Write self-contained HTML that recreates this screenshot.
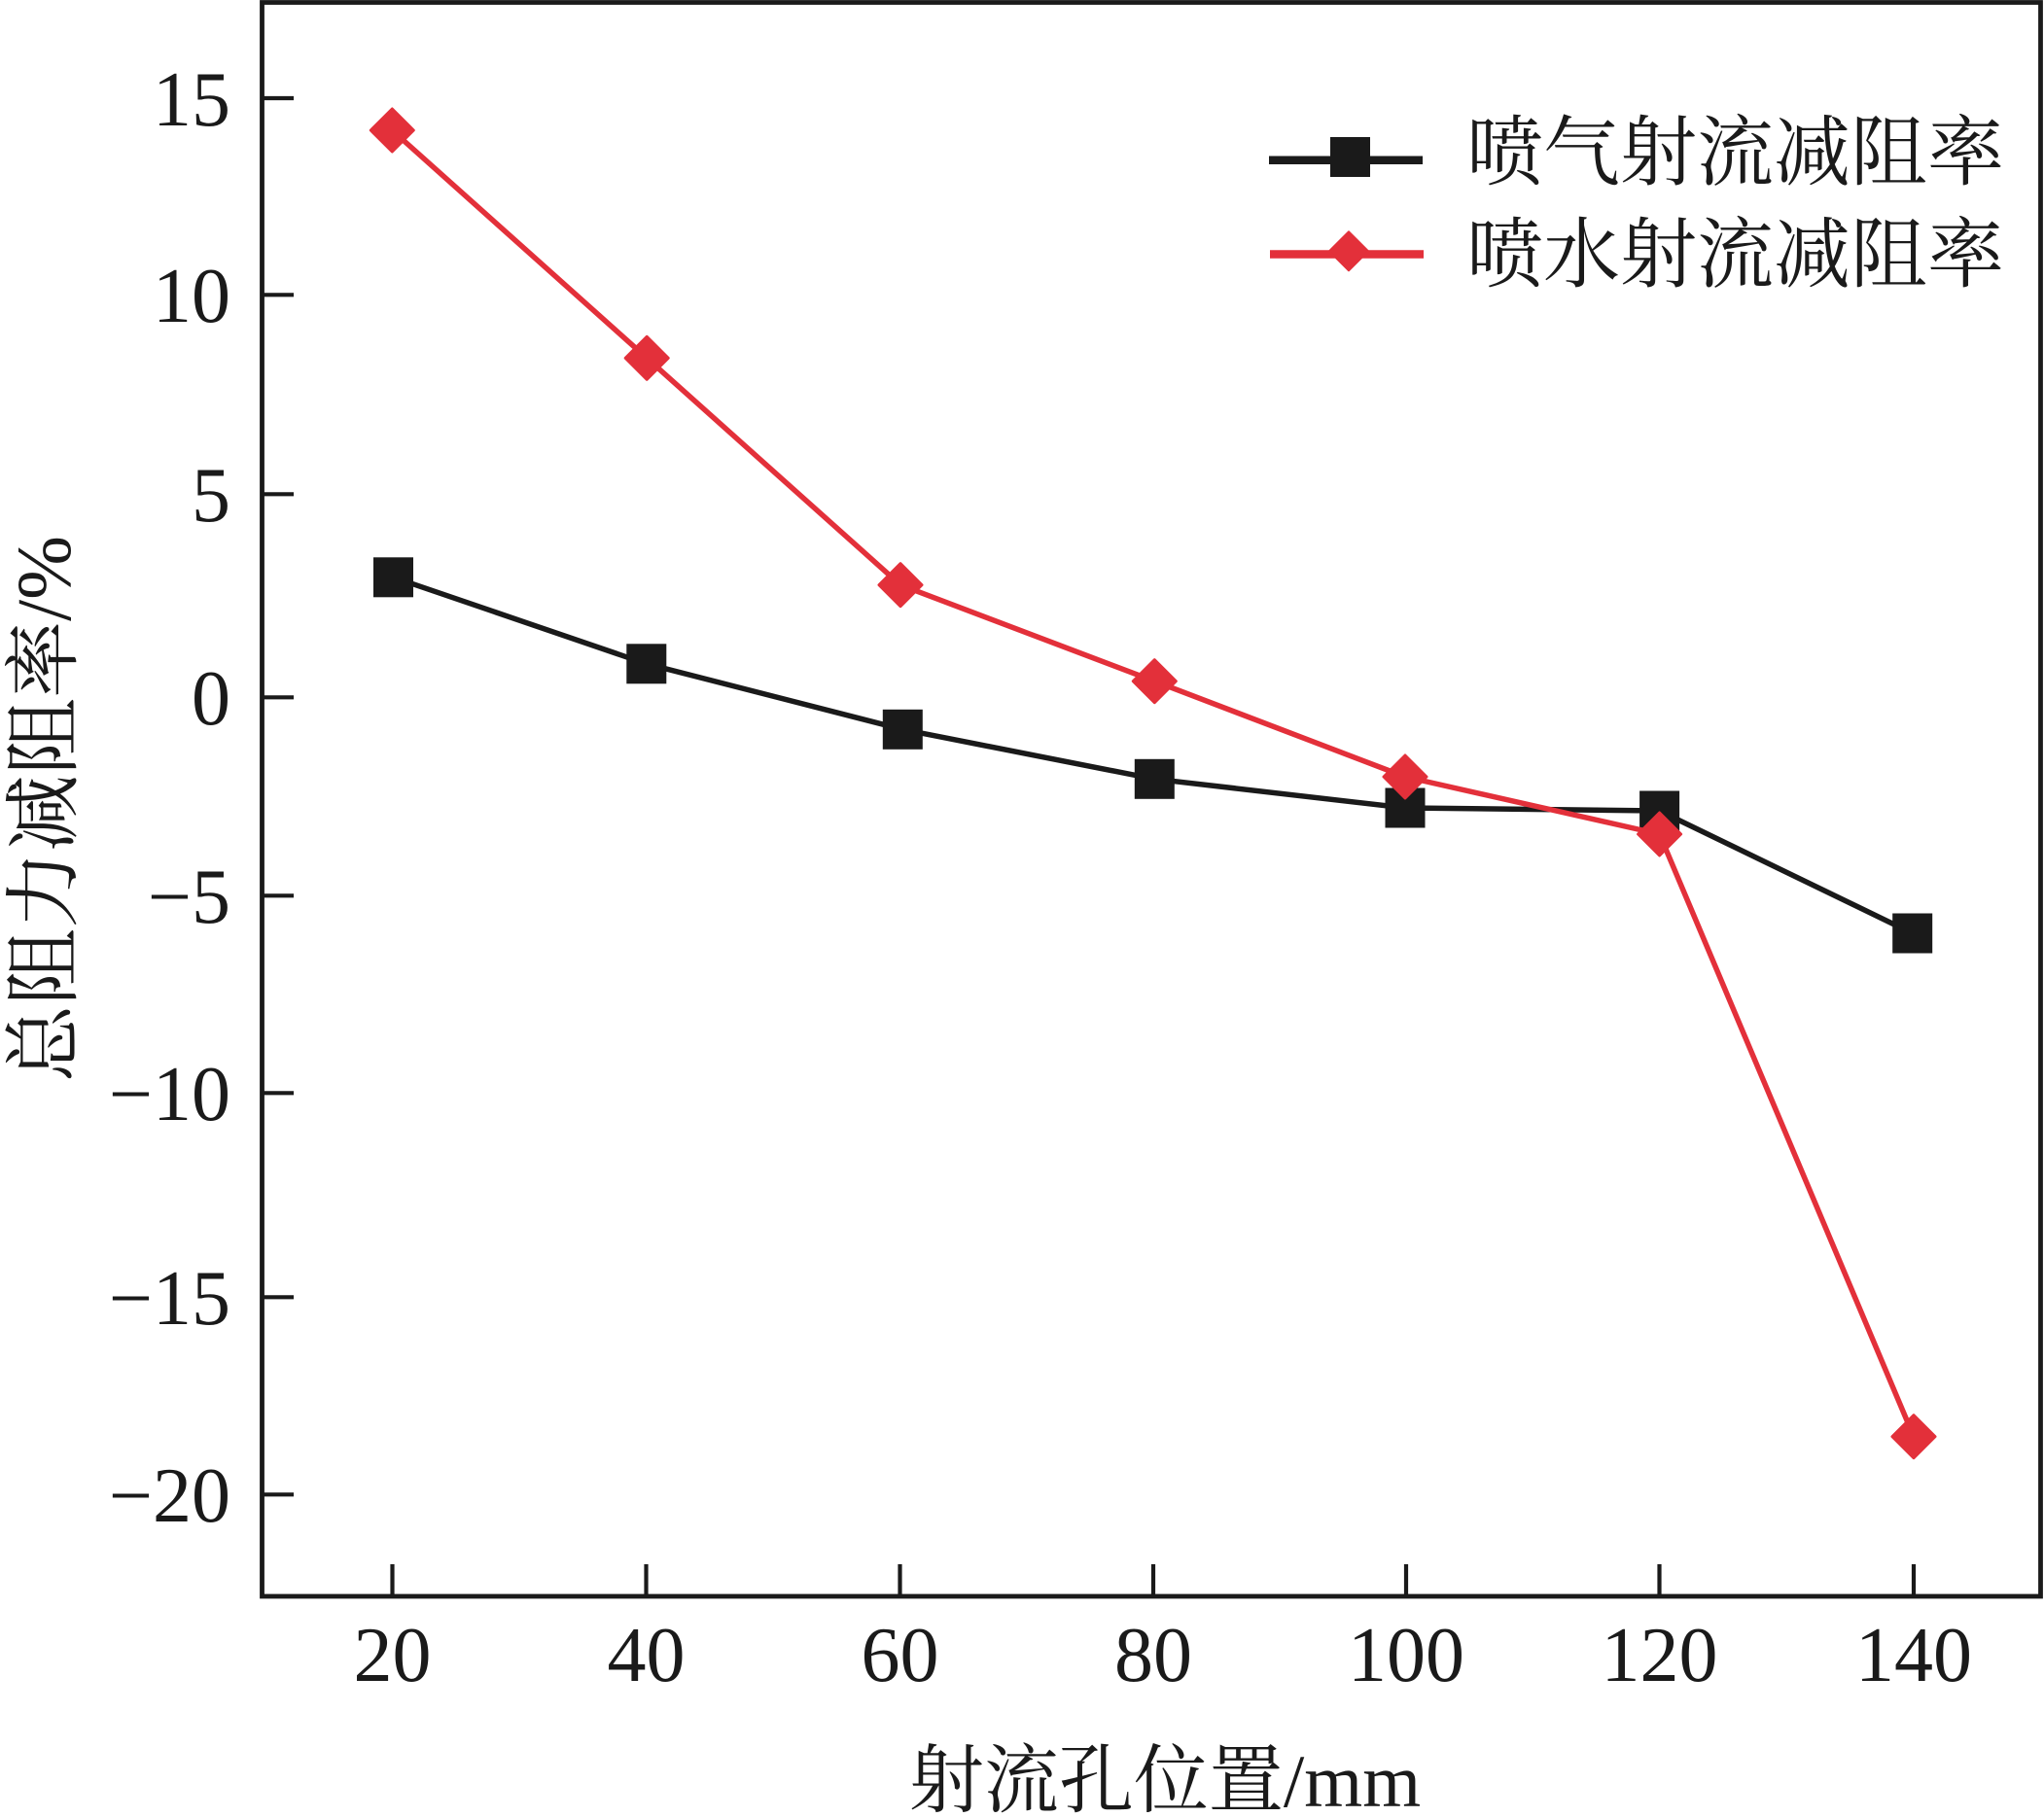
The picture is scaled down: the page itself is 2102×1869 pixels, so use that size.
<!DOCTYPE html>
<html>
<head>
<meta charset="utf-8">
<style>
  html,body{margin:0;padding:0;background:#fff;}
  svg{display:block;}
  .num{font-family:"Liberation Serif","Noto Serif CJK SC",serif;font-size:80px;fill:#1a1a1a;}
  .cjk{font-family:"Liberation Serif","Noto Serif CJK SC",serif;fill:#1a1a1a;}
</style>
</head>
<body>
<svg width="2102" height="1869" viewBox="0 0 2102 1869" xmlns="http://www.w3.org/2000/svg">
  <rect x="0" y="0" width="2102" height="1869" fill="#fff"/>

  <!-- frame -->
  <rect x="269.5" y="2.5" width="1829" height="1639.5" fill="none" stroke="#1a1a1a" stroke-width="4.8"/>

  <!-- y ticks -->
  <g stroke="#1a1a1a" stroke-width="4.2">
    <line x1="269" y1="101" x2="302" y2="101"/>
    <line x1="269" y1="303.3" x2="302" y2="303.3"/>
    <line x1="269" y1="508.3" x2="302" y2="508.3"/>
    <line x1="269" y1="717.3" x2="302" y2="717.3"/>
    <line x1="269" y1="921.3" x2="302" y2="921.3"/>
    <line x1="269" y1="1124.3" x2="302" y2="1124.3"/>
    <line x1="269" y1="1334.3" x2="302" y2="1334.3"/>
    <line x1="269" y1="1537.3" x2="302" y2="1537.3"/>
  </g>
  <!-- x ticks -->
  <g stroke="#1a1a1a" stroke-width="4.2">
    <line x1="403.5" y1="1641" x2="403.5" y2="1609"/>
    <line x1="664.5" y1="1641" x2="664.5" y2="1609"/>
    <line x1="925.5" y1="1641" x2="925.5" y2="1609"/>
    <line x1="1186" y1="1641" x2="1186" y2="1609"/>
    <line x1="1446" y1="1641" x2="1446" y2="1609"/>
    <line x1="1706.5" y1="1641" x2="1706.5" y2="1609"/>
    <line x1="1968" y1="1641" x2="1968" y2="1609"/>
  </g>

  <!-- y tick labels -->
  <g class="num" text-anchor="end">
    <text x="237" y="129">15</text>
    <text x="237" y="331">10</text>
    <text x="237" y="536">5</text>
    <text x="237" y="745">0</text>
    <text x="237" y="949">−5</text>
    <text x="237" y="1152">−10</text>
    <text x="237" y="1362">−15</text>
    <text x="237" y="1565">−20</text>
  </g>
  <!-- x tick labels -->
  <g class="num" text-anchor="middle">
    <text x="403.5" y="1729">20</text>
    <text x="664.5" y="1729">40</text>
    <text x="925.5" y="1729">60</text>
    <text x="1186" y="1729">80</text>
    <text x="1446" y="1729">100</text>
    <text x="1706.5" y="1729">120</text>
    <text x="1968" y="1729">140</text>
  </g>

  <!-- axis titles -->
  <text class="cjk" x="1198" y="1858" font-size="77" text-anchor="middle">射流孔位置/mm</text>
  <text class="cjk" font-size="79" text-anchor="middle" transform="translate(72,832) rotate(-90)">总阻力减阻率/%</text>

  <!-- black series -->
  <polyline fill="none" stroke="#1a1a1a" stroke-width="5.5" stroke-linejoin="round"
    points="404.5,593.8 664.8,682.8 928.3,750.3 1187.3,801.3 1445,831 1706.6,834 1966.7,960"/>
  <g fill="#1a1a1a">
    <rect x="384" y="573.3" width="41" height="41"/>
    <rect x="644.3" y="662.3" width="41" height="41"/>
    <rect x="907.8" y="729.8" width="41" height="41"/>
    <rect x="1166.8" y="780.8" width="41" height="41"/>
    <rect x="1424.5" y="810.5" width="41" height="41"/>
    <rect x="1686.1" y="813.5" width="41" height="41"/>
    <rect x="1946.2" y="939.5" width="41" height="41"/>
  </g>

  <!-- red series -->
  <polyline fill="none" stroke="#e3303a" stroke-width="5.5" stroke-linejoin="round"
    points="403.3,134 665.2,368.3 926,601.7 1187.3,700.7 1445,799 1706.6,858 1968,1477.7"/>
  <g fill="#e3303a" stroke="#e3303a" stroke-width="3" stroke-linejoin="round">
    <polygon points="403.3,112 425.3,134 403.3,156 381.3,134"/>
    <polygon points="665.2,346.3 687.2,368.3 665.2,390.3 643.2,368.3"/>
    <polygon points="926,579.7 948,601.7 926,623.7 904,601.7"/>
    <polygon points="1187.3,678.7 1209.3,700.7 1187.3,722.7 1165.3,700.7"/>
    <polygon points="1445,777 1467,799 1445,821 1423,799"/>
    <polygon points="1706.6,836 1728.6,858 1706.6,880 1684.6,858"/>
    <polygon points="1968,1455.7 1990,1477.7 1968,1499.7 1946,1477.7"/>
  </g>

  <!-- legend -->
  <line x1="1305" y1="164.7" x2="1463" y2="164.7" stroke="#1a1a1a" stroke-width="8.5"/>
  <rect x="1368" y="141" width="41" height="41" fill="#1a1a1a"/>
  <line x1="1306" y1="261.5" x2="1464" y2="261.5" stroke="#e3303a" stroke-width="8.5"/>
  <polygon points="1387,238.3 1407,258.3 1387,278.3 1367,258.3" fill="#e3303a" stroke="#e3303a" stroke-width="2" stroke-linejoin="round"/>
  <text class="cjk" x="1508" y="184" font-size="79">喷气射流减阻率</text>
  <text class="cjk" x="1508" y="289" font-size="79">喷水射流减阻率</text>
</svg>
</body>
</html>
